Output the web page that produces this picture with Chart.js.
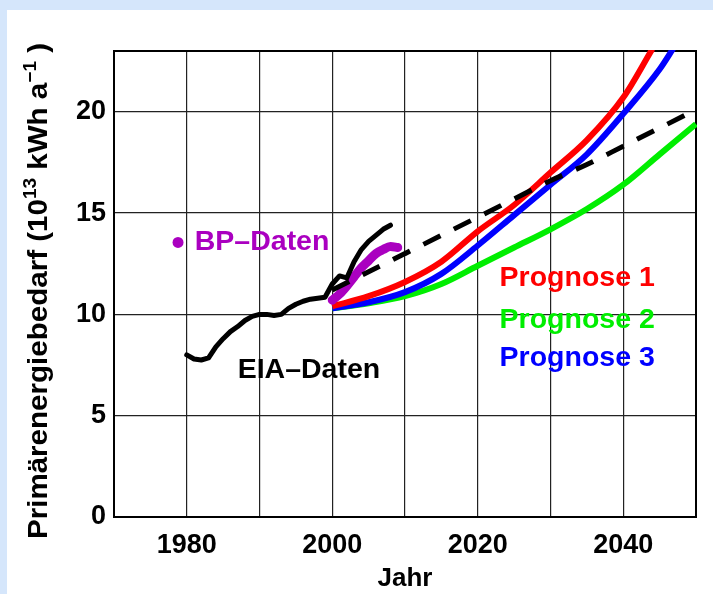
<!DOCTYPE html>
<html>
<head>
<meta charset="utf-8">
<script src="https://cdn.jsdelivr.net/npm/chart.js@4/dist/chart.umd.min.js"></script>
<style>
  html, body { margin: 0; padding: 0; background: #ffffff; }
  #wrap { position: absolute; left: 0; top: 0; width: 713px; height: 594px; }
</style>
</head>
<body>
<div id="wrap"><canvas id="c" width="713" height="594"></canvas></div>
<script>
// ---- data ----
const eiaYears  = [1980,1981,1982,1983,1984,1985,1986,1987,1988,1989,1990,1991,1992,1993,1994,1995,1996,1997,1998,1999,2000,2001,2002,2003,2004,2005,2006,2007,2008];
const eiaValues = [8.0,7.8,7.75,7.85,8.4,8.8,9.15,9.4,9.7,9.9,10.0,10.0,9.95,10.0,10.3,10.5,10.65,10.75,10.8,10.85,11.5,11.9,11.8,12.6,13.2,13.6,13.9,14.2,14.4];

const bpYears  = [2000,2001,2002,2003,2004,2005,2006,2007,2008,2009];
const bpValues = [10.7,11.0,11.4,11.85,12.3,12.65,13.0,13.2,13.35,13.3];

const trendYears  = [2000,2005,2010,2015,2020,2025,2030,2035,2040,2045,2050];
const trendValues = [11.2,12.1,13.0,13.9,14.8,15.7,16.6,17.4,18.3,19.2,20.1];

const prog1Years  = [2000,2005,2010,2015,2020,2025,2030,2035,2040,2044];
const prog1Values = [10.4,10.9,11.6,12.6,14.1,15.4,17.0,18.6,20.7,23.1];

const prog2Years  = [2000,2005,2010,2015,2020,2025,2030,2035,2040,2045,2050];
const prog2Values = [10.3,10.55,10.9,11.5,12.4,13.3,14.2,15.2,16.4,17.9,19.4];

const prog3Years  = [2000,2005,2010,2015,2020,2025,2030,2035,2040,2045,2047];
const prog3Values = [10.3,10.6,11.1,12.0,13.4,14.9,16.4,17.9,19.9,22.1,23.2];

const xLabelled = [1980,2000,2020,2040];
const yLabelled = [0,5,10,15,20];

const labels = [
  {text:'BP\u2013Daten',  x:1981.1, y:13.55, color:'#aa00c0'},
  {text:'EIA\u2013Daten', x:1987.0, y:7.25,  color:'#000000'},
  {text:'Prognose 1',     x:2023.0, y:11.8,  color:'#ff0000'},
  {text:'Prognose 2',     x:2023.0, y:9.7,   color:'#00ee00'},
  {text:'Prognose 3',     x:2023.0, y:7.85,  color:'#0000ff'}
];
const bpMarker = {x:1978.8, y:13.55};

// ---- build ----
const pts = (xs, ys) => xs.map((x, i) => ({x: x, y: ys[i]}));
const FONT = '"Liberation Sans", Arial, Helvetica, sans-serif';

const bgPlugin = {
  id: 'bg',
  beforeDraw(chart) {
    const ctx = chart.ctx;
    ctx.save();
    ctx.fillStyle = '#d5e6fb';
    ctx.fillRect(0, 0, chart.width, chart.height);
    ctx.fillStyle = '#ffffff';
    ctx.fillRect(7, 10, chart.width - 7, chart.height - 10);
    ctx.restore();
  },
  beforeDatasetsDraw(chart) {
    const a = chart.chartArea, ctx = chart.ctx;
    ctx.save();
    ctx.strokeStyle = '#000';
    ctx.lineWidth = 2;
    ctx.strokeRect(a.left, a.top, a.right - a.left, a.bottom - a.top);
    ctx.restore();
  },
  afterDatasetsDraw(chart) {
    const ctx = chart.ctx, xs = chart.scales.x, ys = chart.scales.y;
    ctx.save();
    ctx.font = 'bold 28.5px ' + FONT;
    ctx.textBaseline = 'middle';
    ctx.textAlign = 'left';
    labels.forEach(l => {
      ctx.fillStyle = l.color;
      ctx.fillText(l.text, xs.getPixelForValue(l.x), ys.getPixelForValue(l.y));
    });
    ctx.fillStyle = '#aa00c0';
    ctx.beginPath();
    ctx.arc(xs.getPixelForValue(bpMarker.x), ys.getPixelForValue(bpMarker.y), 5.5, 0, Math.PI * 2);
    ctx.fill();

    // y-axis title with superscripts
    const F = 28, f = 18;
    const parts = [
      {t:'Prim\u00e4renergiebedarf (10', s:F, dy:0},
      {t:'13', s:f, dy:-11},
      {t:' kWh a', s:F, dy:0},
      {t:'\u22121', s:f, dy:-11},
      {t:' )', s:F, dy:0}
    ];
    let total = 0;
    parts.forEach(p => { ctx.font = 'bold ' + p.s + 'px ' + FONT; p.w = ctx.measureText(p.t).width; total += p.w; });
    ctx.translate(37, 291);
    ctx.rotate(-Math.PI / 2);
    const sc = 496 / total;
    ctx.scale(sc, 1);
    let x = -total / 2;
    ctx.fillStyle = '#000';
    ctx.textBaseline = 'alphabetic';
    parts.forEach(p => {
      ctx.font = 'bold ' + p.s + 'px ' + FONT;
      ctx.fillText(p.t, x, 10 + p.dy);
      x += p.w;
    });
    ctx.restore();
  }
};

const common = {fill:false, pointRadius:0, clip:1, tension:0};

new Chart(document.getElementById('c'), {
  type: 'line',
  data: {
    datasets: [
      Object.assign({}, common, {data: pts(trendYears, trendValues), borderColor:'#000', borderWidth:5, borderDash:[19,15], cubicInterpolationMode:'monotone'}),
      Object.assign({}, common, {data: pts(eiaYears, eiaValues), borderColor:'#000', borderWidth:5, borderJoinStyle:'round', borderCapStyle:'round'}),
      Object.assign({}, common, {data: pts(bpYears, bpValues), borderColor:'#aa00c0', borderWidth:9, borderCapStyle:'round', borderJoinStyle:'round', cubicInterpolationMode:'monotone'}),
      Object.assign({}, common, {data: pts(prog1Years, prog1Values), borderColor:'#ff0000', borderWidth:6, cubicInterpolationMode:'monotone'}),
      Object.assign({}, common, {data: pts(prog3Years, prog3Values), borderColor:'#0000ff', borderWidth:6, cubicInterpolationMode:'monotone'}),
      Object.assign({}, common, {data: pts(prog2Years, prog2Values), borderColor:'#00ee00', borderWidth:6, cubicInterpolationMode:'monotone'})
    ]
  },
  options: {
    responsive: false,
    animation: false,
    events: [],
    layout: {padding: {left: 54, top: 51, right: 17, bottom: 0}},
    plugins: {legend: {display: false}, tooltip: {enabled: false}},
    scales: {
      x: {
        type: 'linear', min: 1970, max: 2050,
        border: {display: false},
        grid: {color: '#222', lineWidth: 1.2, drawTicks: false},
        ticks: {
          stepSize: 10, padding: 12, color: '#000', maxRotation: 0, autoSkip: false,
          font: {family: FONT, weight: 'bold', size: 27},
          callback: v => xLabelled.includes(v) ? String(v) : ''
        },
        title: {display: true, text: 'Jahr', color: '#000', font: {family: FONT, weight: 'bold', size: 26}, padding: {top: 0, bottom: 0}},
        afterFit: s => { s.height = 77; }
      },
      y: {
        type: 'linear', min: 0, max: 23,
        border: {display: false},
        grid: {color: '#222', lineWidth: 1.2, drawTicks: false},
        ticks: {
          stepSize: 5, includeBounds: false, padding: 8, color: '#000',
          font: {family: FONT, weight: 'bold', size: 27},
          callback: v => yLabelled.includes(v) ? String(v) : ''
        },
        afterFit: s => { s.width = 60; }
      }
    }
  },
  plugins: [bgPlugin]
});
</script>
</body>
</html>
